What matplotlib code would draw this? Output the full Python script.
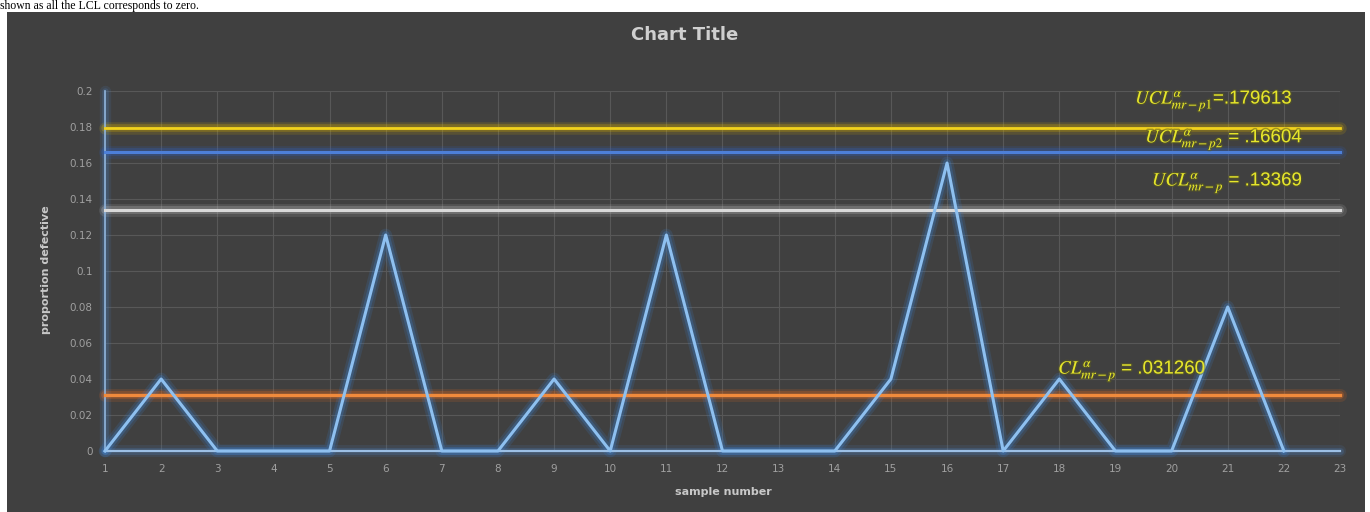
import matplotlib
matplotlib.use("Agg")
import matplotlib.pyplot as plt
from matplotlib.patches import Rectangle
import matplotlib.patheffects as pe

plt.rcParams["mathtext.fontset"] = "stix"

# sample numbers and proportion defective
samples = list(range(1, 23))
proportion = [0, 0.04, 0, 0, 0, 0.12, 0, 0, 0.04, 0, 0.12, 0, 0, 0, 0.04, 0.16,
              0, 0.04, 0, 0, 0.08, 0]

# control limits
ucl_p1 = 0.179613
ucl_p2 = 0.16604
ucl_p = 0.13369
cl_p = 0.031260

y_ticks = [0, 0.02, 0.04, 0.06, 0.08, 0.1, 0.12, 0.14, 0.16, 0.18, 0.2]
y_tick_labels = ["0", "0.02", "0.04", "0.06", "0.08", "0.1", "0.12", "0.14", "0.16", "0.18", "0.2"]
x_ticks = list(range(1, 24))

BG = "#404040"
W, H = 1370, 512
fig = plt.figure(figsize=(W / 100, H / 100), dpi=100)
fig.patch.set_facecolor("white")

# dark chart panel
fig.patches.append(Rectangle((7 / W, 0), (1365 - 7) / W, (H - 12) / H,
                             transform=fig.transFigure, facecolor=BG,
                             edgecolor="none", zorder=-5))

# surrounding document text
fig.text(0.0, 1 - 0.5 / H, "shown as all the LCL corresponds to zero.",
         family="Liberation Serif", fontsize=8.5, color="black",
         ha="left", va="top")

ax = fig.add_axes([105 / W, 1 - 451 / H, (1340 - 105) / W, (451 - 91) / H])
ax.set_zorder(2)
ax.patch.set_alpha(0)

ax.set_xlim(1, 23)
ax.set_ylim(0, 0.2)
ax.set_xticks(x_ticks)
ax.set_xticklabels([str(x) for x in x_ticks])
ax.set_yticks(y_ticks)
ax.set_yticklabels(y_tick_labels)
ax.grid(True, color="#585858", linewidth=0.8)
ax.set_axisbelow(True)
for s in ax.spines.values():
    s.set_visible(False)
ax.tick_params(colors="#a0a0a0", labelsize=7.5, length=0, pad=9)

def glow_line(x, y, color, lw, glow):
    ax.plot(x, y, color=glow, lw=lw + 7, alpha=0.16, solid_capstyle="round",
            zorder=3, clip_on=False)
    ax.plot(x, y, color=glow, lw=lw + 3.5, alpha=0.28, solid_capstyle="round",
            zorder=3, clip_on=False)
    ax.plot(x, y, color=color, lw=lw, zorder=4, clip_on=False)

# axis lines
glow_line([1, 1], [0, 0.2], "#8fb4dc", 1.2, "#4a78b0")
glow_line([1, 23], [0, 0], "#9cc0e6", 1.6, "#4a78b0")

# control limit lines
glow_line([1, 23], [ucl_p1, ucl_p1], "#f2d21c", 2.0, "#d8b000")
glow_line([1, 23], [ucl_p2, ucl_p2], "#4d7fd8", 2.2, "#3060c0")
glow_line([1, 23], [ucl_p, ucl_p], "#d9d9d9", 2.2, "#bbbbbb")
glow_line([1, 23], [cl_p, cl_p], "#f08a3c", 2.4, "#e06820")

# data series
glow_line(samples, proportion, "#8ec0f0", 2.2, "#3a80d0")

# labels
lab = dict(color="#e6e62a", fontsize=13.5, ha="left", va="center", zorder=6,
           family="Liberation Sans",
           path_effects=[pe.withStroke(linewidth=2, foreground="#5a5a20", alpha=0.5)])
ax.text(19.35, 0.1945, r"$UCL^{\alpha}_{mr-p1}$=.179613", **lab)
ax.text(19.53, 0.173, r"$UCL^{\alpha}_{mr-p2}$ = .16604", **lab)
ax.text(19.65, 0.149, r"$UCL^{\alpha}_{mr-p}$ = .13369", **lab)
ax.text(17.98, 0.0445, r"$CL^{\alpha}_{mr-p}$ = .031260", **lab)

fig.text(685 / W, 1 - 35 / H, "Chart Title", color="#d0d0d0", fontsize=13,
         fontweight="bold", ha="center", va="center")
fig.text(723 / W, 1 - 492 / H, "sample number", color="#c8c8c8", fontsize=8,
         fontweight="bold", ha="center", va="center")
fig.text(46 / W, 1 - 270 / H, "proportion defective", color="#c8c8c8", fontsize=8,
         fontweight="bold", ha="center", va="center", rotation=90)

fig.savefig("out.png", dpi=100, facecolor=fig.get_facecolor())
